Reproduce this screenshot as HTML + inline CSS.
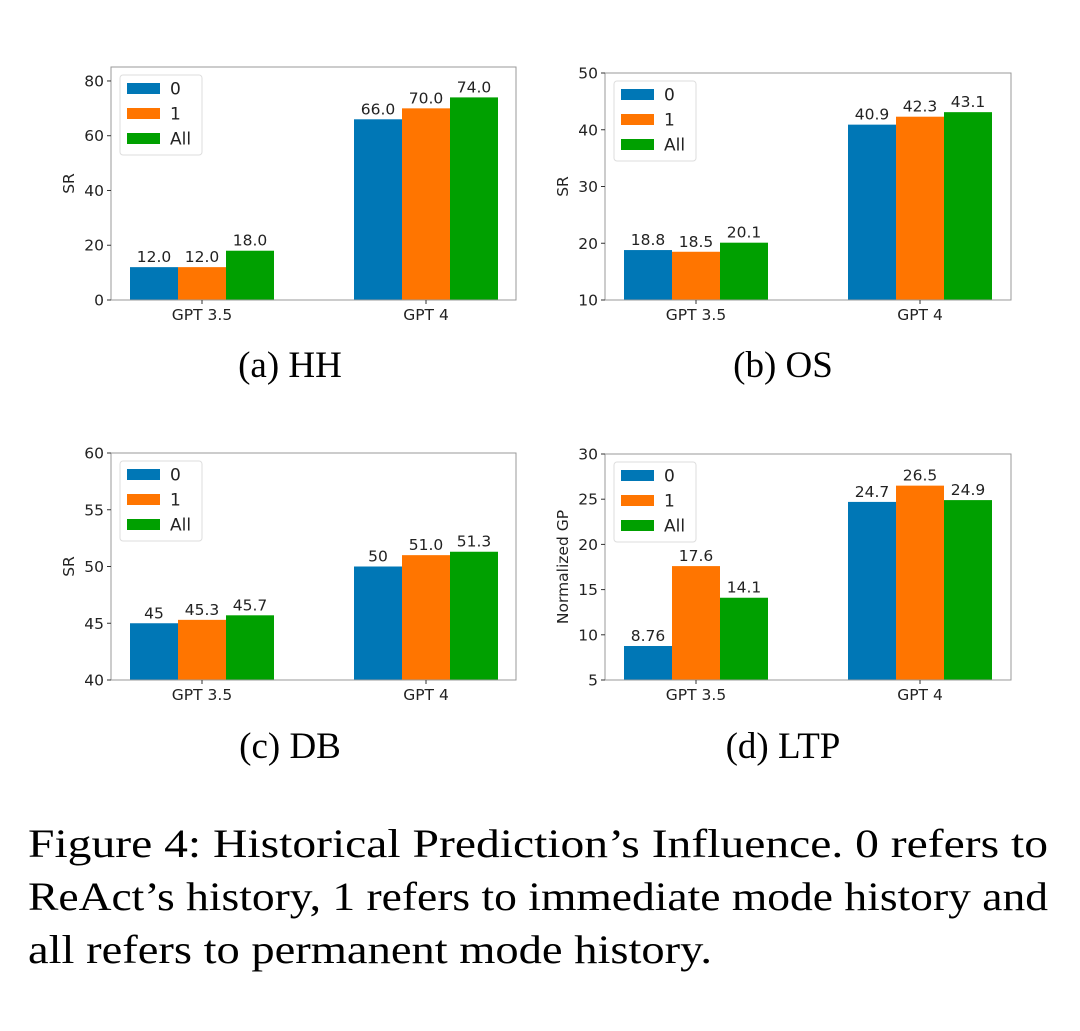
<!DOCTYPE html>
<html><head><meta charset="utf-8"><style>
html,body{margin:0;padding:0;background:#fff}
svg{display:block}
.t{font-family:"DejaVu Sans","Liberation Sans",sans-serif;font-size:15.5px;fill:#222}
.lg{font-family:"DejaVu Sans","Liberation Sans",sans-serif;font-size:17px;fill:#222}
.c{font-family:"Liberation Serif",serif;font-size:37px;fill:#000}
.f{font-family:"Liberation Serif",serif;font-size:40px;fill:#000}
</style></head><body>
<svg id="s" width="1080" height="1031" xmlns="http://www.w3.org/2000/svg">
<text class="c" x="290" y="377" text-anchor="middle">(a) HH</text>
<text class="c" x="783" y="377" text-anchor="middle">(b) OS</text>
<text class="c" x="290" y="758" text-anchor="middle">(c) DB</text>
<text class="c" x="783" y="758" text-anchor="middle">(d) LTP</text>
<text class="f" x="28" y="857" textLength="1020" lengthAdjust="spacingAndGlyphs">Figure 4: Historical Prediction’s Influence. 0 refers to</text>
<text class="f" x="28" y="910" textLength="1020" lengthAdjust="spacingAndGlyphs">ReAct’s history, 1 refers to immediate mode history and</text>
<text class="f" x="28" y="963" textLength="684" lengthAdjust="spacingAndGlyphs">all refers to permanent mode history.</text>
</svg>
<script>
const P=[
{L:111,T:67,R:516,B:300,min:0,max:85.1,ticks:[0,20,40,60,80],yl:"SR",v:[[12,12,18],[66,70,74]],lab:[["12.0","12.0","18.0"],["66.0","70.0","74.0"]]},
{L:605,T:73,R:1011,B:300,min:10,max:50,ticks:[10,20,30,40,50],yl:"SR",v:[[18.8,18.5,20.1],[40.9,42.3,43.1]],lab:[["18.8","18.5","20.1"],["40.9","42.3","43.1"]]},
{L:111,T:453,R:516,B:680,min:40,max:60,ticks:[40,45,50,55,60],yl:"SR",v:[[45,45.3,45.7],[50,51,51.3]],lab:[["45","45.3","45.7"],["50","51.0","51.3"]]},
{L:605,T:454,R:1011,B:680,min:5,max:30,ticks:[5,10,15,20,25,30],yl:"Normalized GP",v:[[8.76,17.6,14.1],[24.7,26.5,24.9]],lab:[["8.76","17.6","14.1"],["24.7","26.5","24.9"]]}];
const C=["#0077b6","#ff7500","#00a000"],N=["0","1","All"];
let h="";
for(const p of P){
 const y=v=>p.B-(v-p.min)/(p.max-p.min)*(p.B-p.T);
 for(let g=0;g<2;g++)for(let i=0;i<3;i++){
  const x=p.L+19+g*224+i*48,yt=y(p.v[g][i]);
  h+=`<rect x="${x}" y="${yt}" width="48" height="${p.B-yt}" fill="${C[i]}"/>`;
  h+=`<text class="t" x="${x+24}" y="${yt-5}" text-anchor="middle">${p.lab[g][i]}</text>`;
 }
 h+=`<rect x="${p.L}" y="${p.T}" width="${p.R-p.L}" height="${p.B-p.T}" fill="none" stroke="#999" stroke-width="1"/>`;
 for(const t of p.ticks){const yy=y(t);h+=`<line x1="${p.L-4}" x2="${p.L}" y1="${yy}" y2="${yy}" stroke="#333"/><text class="t" x="${p.L-7}" y="${yy+5.5}" text-anchor="end">${t}</text>`;}
 for(const g of [0,1]){const cx=p.L+91+g*224;h+=`<line x1="${cx}" x2="${cx}" y1="${p.B}" y2="${p.B+4}" stroke="#333"/><text class="t" x="${cx}" y="${p.B+20}" text-anchor="middle">${g?"GPT 4":"GPT 3.5"}</text>`;}
 const yc=(p.T+p.B)/2;h+=`<text class="t" transform="translate(${p.L-37},${yc}) rotate(-90)" text-anchor="middle">${p.yl}</text>`;
 h+=`<rect x="${p.L+9}" y="${p.T+8}" width="82" height="80" rx="3" fill="#fff" fill-opacity="0.85" stroke="#ddd"/>`;
 for(let i=0;i<3;i++){const cy=p.T+21.5+i*25;h+=`<rect x="${p.L+16}" y="${cy-5.5}" width="33" height="11" fill="${C[i]}"/><text class="lg" x="${p.L+59}" y="${cy+6}">${N[i]}</text>`;}
}
document.getElementById("s").insertAdjacentHTML("beforeend",h);
</script>
</body></html>
